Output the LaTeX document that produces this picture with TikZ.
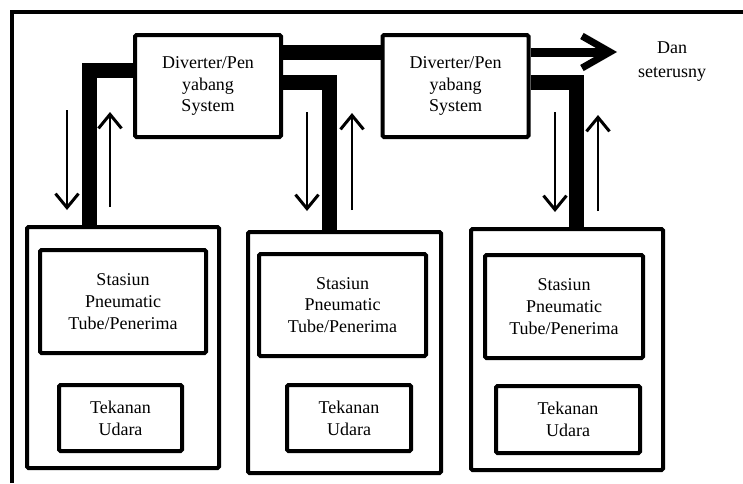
\documentclass[tikz,border=0pt]{standalone}
\usepackage{fontspec}
\setmainfont{Liberation Serif}
\usetikzlibrary{positioning,arrows.meta}

\begin{document}
\begin{tikzpicture}[x=1pt, y=-1pt,
        box/.style={draw, line width=4pt, rounded corners=1.5pt, align=center, inner sep=0pt,
            font=\fontsize{18}{21.7}\selectfont},
        pipe/.style={line width=15pt},
        flow/.style={line width=2.5pt, -{Straight Barb[length=14pt,width=23pt,line width=3pt]}}]
        \useasboundingbox (0,0) rectangle (743,483);
        \draw[line width=4pt] (12,483) |- (743,12);

        % diverters
        \node (div1) [box, minimum width=146pt, minimum height=102pt] at (208,86) {Diverter/Pen\\yabang\\System};
        \node (div2) [box, minimum width=146pt, minimum height=102pt] at (455.5,86) {Diverter/Pen\\yabang\\System};

        % stations
        \node (st1) [box, minimum width=192pt, minimum height=241pt] at (123,347.5) {};
        \node (st2) [box, minimum width=193pt, minimum height=241pt] at (344.5,352.5) {};
        \node (st3) [box, minimum width=192pt, minimum height=241pt] at (567,349.5) {};

        \node (tube1) [box, minimum width=166pt, minimum height=103pt] at (123,301.5) {Stasiun\\Pneumatic\\Tube/Penerima};
        \node (tube2) [box, minimum width=167pt, minimum height=102pt] at (342.5,305) {Stasiun\\Pneumatic\\Tube/Penerima};
        \node (tube3) [box, minimum width=158pt, minimum height=103pt] at (564,306.5) {Stasiun\\Pneumatic\\Tube/Penerima};

        \node (air1) [box, minimum width=123pt, minimum height=66pt] at (120.5,418) {Tekanan\\Udara};
        \node (air2) [box, minimum width=124pt, minimum height=66pt] at (349,418) {Tekanan\\Udara};
        \node (air3) [box, minimum width=144pt, minimum height=67pt] at (568,419.5) {Tekanan\\Udara};

        \node (more) [align=center, font=\fontsize{18}{24}\selectfont] at (672,62) {Dan\\seterusny};
        \coordinate (end) at (617,52);

        % pipes
        \draw[pipe] ([yshift=34pt]div1.east) -- ([yshift=34pt]div2.west);
        \draw[pipe] ([yshift=16pt]div1.west) -| ([xshift=-34pt]st1.north);
        \draw[pipe] ([yshift=4pt]div1.east) -| ([xshift=-15.5pt]st2.north);
        \draw[pipe] ([yshift=4pt]div2.east) -| ([xshift=9pt]st3.north);
        \draw[line width=9pt, -{Straight Barb[length=28pt,width=32pt,line width=7pt]}] ([yshift=34pt]div2.east) -- (end);

        % send / return
        \coordinate (s1) at (67,110);  \coordinate (e1) at (67,210);
        \coordinate (s2) at (110,207); \coordinate (e2) at (110,112);
        \coordinate (s3) at (307,112); \coordinate (e3) at (307,211);
        \coordinate (s4) at (352,210); \coordinate (e4) at (352,113);
        \coordinate (s5) at (555,112); \coordinate (e5) at (555,212);
        \coordinate (s6) at (598,211); \coordinate (e6) at (598,115);
        \path[flow]
            (s1) edge (e1)
            (s2) edge (e2)
            (s3) edge (e3)
            (s4) edge (e4)
            (s5) edge (e5)
            (s6) edge (e6)
        ;
    \end{tikzpicture}
\end{document}
